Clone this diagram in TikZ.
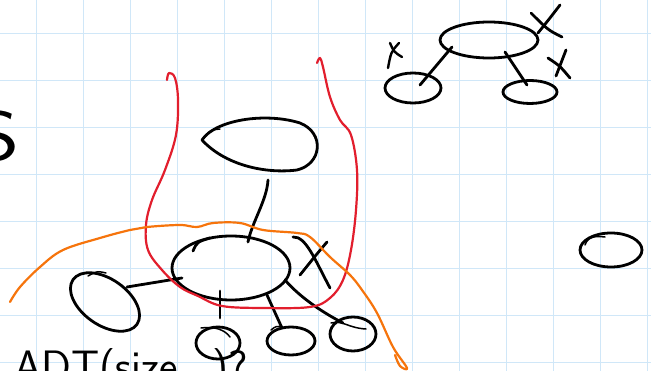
\documentclass[tikz,border=0pt]{standalone}
\usetikzlibrary{shapes.geometric}
\definecolor{gridblue}{RGB}{208,231,248}
\definecolor{penred}{RGB}{226,30,45}
\definecolor{penorange}{RGB}{246,116,12}
\begin{document}
\begin{tikzpicture}[x=1pt,y=-1pt,
  ink/.style={line width=2.8pt, line cap=round, line join=round, black},
  blob/.style={ink, draw, ellipse, inner sep=0pt},
  gridline/.style={gridblue, line width=1pt},
  redpen/.style={penred, line width=2.2pt, line cap=round, line join=round},
  orangepen/.style={penorange, line width=2.2pt, line cap=round, line join=round},
  hand/.style={font=\sffamily, inner sep=0pt}]
\useasboundingbox (0,0) rectangle (651,371);
\clip (0,0) rectangle (651,371);
\fill[white] (0,0) rectangle (651,371);
% grid
\foreach \x in {36,83,...,651} \draw[gridline] (\x,0) -- (\x,371);
\foreach \y in {34,81,...,371} \draw[gridline] (0,\y) -- (651,\y);

% partial letters
\node[hand, font=\sffamily\fontsize{70}{70}\selectfont, anchor=east, xscale=1.3] (sletter) at (20,136) {S};
\node[hand, font=\sffamily\fontsize{44}{44}\selectfont, anchor=north west] (adt) at (14,348) {ADT(size...)?};

% top-right group
\node[blob, minimum width=98pt, minimum height=36pt] (trbig) at (489,40) {};
\node[blob, minimum width=56pt, minimum height=30pt] (trleft) at (413,88) {};
\node[blob, minimum width=54pt, minimum height=23pt] (trright) at (530,92) {};
\coordinate (a1) at (420,85); \coordinate (a2) at (452,47);
\coordinate (b1) at (505,52); \coordinate (b2) at (527,85);
\draw[ink] (a1) -- (a2);
\draw[ink] (b1) -- (b2);
% crosses top-right
\coordinate (x1a) at (390,43); \coordinate (x1b) at (402,57);
\coordinate (x1c) at (399,43); \coordinate (x1d) at (388,68);
\draw[ink, line width=2.4pt] (x1a) .. controls (394,52) .. (x1b);
\draw[ink, line width=2.4pt] (x1c) .. controls (391,52) .. (x1d);
\coordinate (x2a) at (560,5); \coordinate (x2b) at (538,33);
\coordinate (x2c) at (531,13); \coordinate (x2d) at (562,37);
\draw[ink] (x2a) .. controls (550,18) .. (x2b);
\draw[ink] (x2c) .. controls (548,30) .. (x2d);
\coordinate (x3a) at (566,50); \coordinate (x3b) at (556,76);
\coordinate (x3c) at (548,58); \coordinate (x3d) at (570,78);
\draw[ink] (x3a) -- (x3b);
\draw[ink] (x3c) .. controls (560,66) .. (x3d);

% lone right ellipse
\node[blob, minimum width=62pt, minimum height=34pt] (lone) at (611,250) {};
\draw[ink, line width=1.5pt] (585,245) .. controls (588,236) and (596,236) .. (605,237);

% egg (top middle)
\coordinate (egg) at (260,145);
\draw[ink] (202,140) .. controls (215,120) and (265,112) .. (300,123)
  .. controls (325,133) and (322,164) .. (297,170)
  .. controls (265,174) and (225,165) .. (202,140) -- cycle;
\draw[ink, line width=1.5pt] (203,139) .. controls (210,130) .. (220,129);

% central ellipse
\node[blob, minimum width=118pt, minimum height=64pt] (center) at (231,268) {};
\draw[ink] (193,251) .. controls (197,242) .. (210,238);

% left ellipse
\node[blob, minimum width=78pt, minimum height=46pt, rotate=-35] (left) at (105,302) {};
\draw[ink, line width=1.5pt] (88,276) .. controls (97,271) .. (106,273);

% bottom ellipses
\node[blob, minimum width=44pt, minimum height=32pt] (bot1) at (218,343) {};
\node[blob, minimum width=48pt, minimum height=28pt] (bot2) at (291,341) {};
\node[blob, minimum width=46pt, minimum height=34pt] (bot3) at (353,334) {};
\draw[ink, line width=1.5pt] (201,328) .. controls (215,326) and (225,330) .. (230,337);
\draw[ink, line width=1.5pt] (271,330) .. controls (276,326) .. (283,327);
\draw[ink, line width=1.5pt] (331,323) .. controls (343,320) and (348,328) .. (366,329);

% connectors in the middle
\coordinate (c1) at (268,180); \coordinate (c2) at (248,242);
\draw[ink] (c1) .. controls (267,200) and (252,222) .. (c2);
\coordinate (d1) at (127,287); \coordinate (d2) at (182,278);
\draw[ink] (d1) -- (d2);
\coordinate (e1) at (220,291); \coordinate (e2) at (220,318);
\draw[ink] (e1) -- (e2);
\coordinate (f1) at (267,295); \coordinate (f2) at (282,328);
\draw[ink] (f1) -- (f2);
\coordinate (g1) at (285,280); \coordinate (g2) at (343,323);
\draw[ink] (g1) .. controls (298,295) and (318,310) .. (g2);
% cross near centre
\coordinate (h1) at (293,237); \coordinate (h2) at (330,288);
\draw[ink] (h1) .. controls (306,236) and (315,260) .. (h2);
\coordinate (h3) at (327,242); \coordinate (h4) at (300,275);
\draw[ink] (h3) .. controls (316,255) .. (h4);

% red pen
\draw[redpen] plot[smooth, tension=0.6] coordinates {(167,80) (169,73) (175,78) (178,100) (176,135) (165,170) (152,200) (146,225) (148,250) (162,270) (180,287) (198,296) (222,306) (263,308) (310,307) (330,298) (343,280) (351,250) (356,210) (357,170) (351,135) (340,120) (330,97) (323,67) (320,58) (317,63)};

% orange pen
\draw[orangepen] plot[smooth, tension=0.6] coordinates {(10,302) (20,287) (40,267) (63,250) (100,238) (130,230) (147,227) (180,225) (197,227) (213,223) (240,223) (263,230) (297,233) (310,237) (330,257) (350,275) (362,290) (377,313) (393,347) (407,368) (400,366) (395,355)};
\end{tikzpicture}
\end{document}
